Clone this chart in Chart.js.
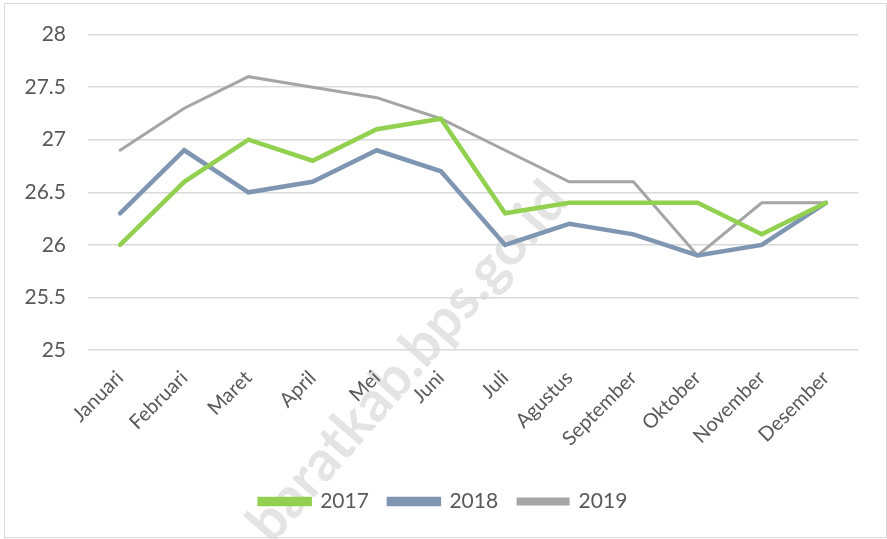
<!DOCTYPE html>
<html>
<head>
<meta charset="utf-8">
<script src="https://cdn.jsdelivr.net/npm/chart.js@4"></script>
<style>
  html, body { margin: 0; padding: 0; background: #fff; }
  #wrap { width: 887px; height: 539px; position: relative; }
</style>
</head>
<body>
<div id="wrap"><canvas id="chart"></canvas></div>
<script>
// data
const months = ['Januari', 'Februari', 'Maret', 'April', 'Mei', 'Juni', 'Juli', 'Agustus', 'September', 'Oktober', 'November', 'Desember'];
const data2017 = [26.0, 26.6, 27.0, 26.8, 27.1, 27.2, 26.3, 26.4, 26.4, 26.4, 26.1, 26.4];
const data2018 = [26.3, 26.9, 26.5, 26.6, 26.9, 26.7, 26.0, 26.2, 26.1, 25.9, 26.0, 26.4];
const data2019 = [26.9, 27.3, 27.6, 27.5, 27.4, 27.2, 26.9, 26.6, 26.6, 25.9, 26.4, 26.4];
const yTicks = [25, 25.5, 26, 26.5, 27, 27.5, 28];

const FONT = 'Lato, "Open Sans", sans-serif';
const TEXT = '#595959';

// watermark (under everything) + outer border
const decor = {
    id: 'decor',
    beforeDraw(chart) {
        const ctx = chart.ctx;
        ctx.save();
        ctx.translate(408, 362);
        ctx.rotate(-49 * Math.PI / 180);
        ctx.font = 'bold 56px ' + FONT;
        ctx.fillStyle = '#e4e4e4';
        ctx.textAlign = 'center';
        ctx.textBaseline = 'middle';
        ctx.fillText('baratkab.bps.go.id', 0, 0);
        ctx.restore();
    },
    afterDraw(chart) {
        const ctx = chart.ctx;
        ctx.save();
        ctx.strokeStyle = '#d9d9d9';
        ctx.lineWidth = 1;
        ctx.strokeRect(4.5, 3.5, chart.width - 5, chart.height - 5);
        ctx.restore();
    }
};

const line = (label, values, color, width) => ({
    label: label,
    data: values,
    borderColor: color,
    backgroundColor: color,
    borderWidth: width,
    pointRadius: 0,
    tension: 0,
    borderCapStyle: 'round',
    borderJoinStyle: 'miter'
});

new Chart(document.getElementById('chart'), {
    type: 'line',
    data: {
        labels: months,
        datasets: [
            line('2017', data2017, '#92d050', 4.5),
            line('2018', data2018, '#7f96b2', 4.5),
            line('2019', data2019, '#a5a5a5', 3)
        ]
    },
    options: {
        responsive: true,
        maintainAspectRatio: false,
        animation: false,
        layout: { padding: { top: 32, right: 0, bottom: 17, left: 0 } },
        scales: {
            x: {
                offset: true,
                grid: { display: false },
                border: { display: false },
                ticks: {
                    color: TEXT,
                    font: { family: FONT, size: 20 },
                    minRotation: 45,
                    maxRotation: 45,
                    padding: 8
                },
                afterFit: s => { s.height = 121; }
            },
            y: {
                min: 25,
                max: 28,
                afterBuildTicks: s => { s.ticks = yTicks.map(v => ({ value: v })); },
                grid: { color: '#d9d9d9', lineWidth: 1.5, drawTicks: false },
                border: { display: false },
                ticks: {
                    color: TEXT,
                    font: { family: FONT, size: 21 },
                    padding: 22,
                    callback: v => String(v)
                },
                afterFit: s => { s.width = 88; }
            },
            // empty right margin so the legend centres on the whole picture
            yRight: {
                position: 'right',
                grid: { display: false },
                border: { display: false },
                ticks: { display: false },
                afterFit: s => { s.width = 29; }
            }
        },
        plugins: {
            legend: {
                position: 'bottom',
                labels: {
                    color: TEXT,
                    font: { family: FONT, size: 21 },
                    boxWidth: 50,
                    boxHeight: 5,
                    padding: 20
                }
            },
            tooltip: { enabled: false }
        }
    },
    plugins: [decor]
});
</script>
</body>
</html>
